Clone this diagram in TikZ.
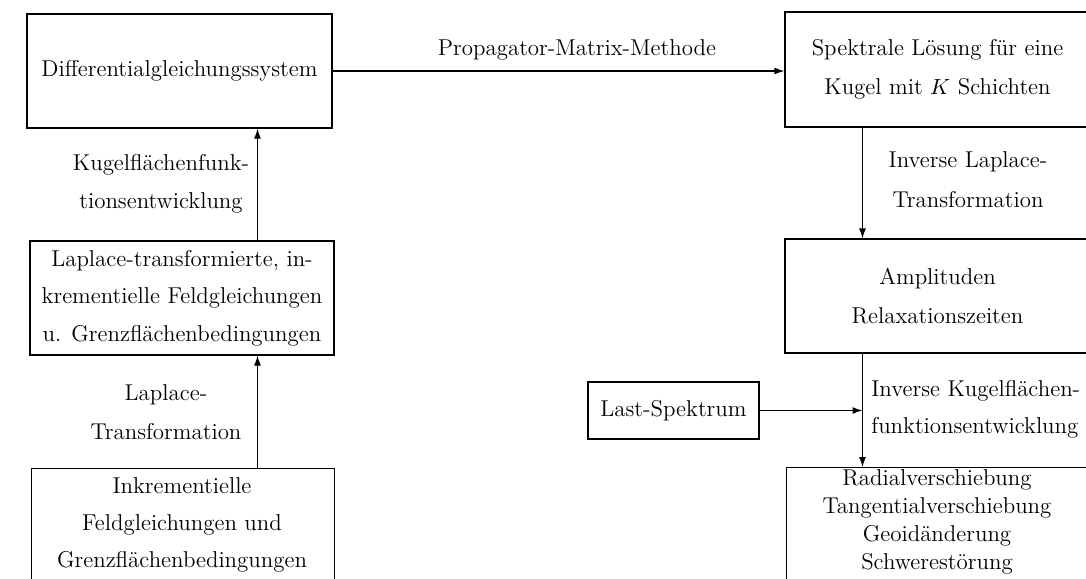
\documentclass[tikz,border=0pt]{standalone}
\usetikzlibrary{arrows.meta}
\begin{document}
\begin{tikzpicture}[x=0.5pt,y=-0.5pt,
  box/.style={draw,line width=0.6pt,rectangle,inner sep=0pt,align=center,font=\fontsize{11.45}{19.5}\selectfont},
  txt/.style={inner sep=0pt,align=center,font=\fontsize{11.45}{19}\selectfont},
  arr/.style={line width=0.6pt,-{Latex[length=5pt,width=3.5pt]}}]
\useasboundingbox (0,0) rectangle (1086,578);
\clip (0,0) rectangle (1086,578);
% boxes
\node[box,minimum width=152.5pt,minimum height=57pt] (b1) at (179.5,71) {Differentialgleichungssystem};
\node[box,minimum width=152.5pt,minimum height=57.5pt] (b2) at (937.5,69.5) {Spektrale Lösung für eine\\Kugel mit $K$ Schichten};
\node[box,minimum width=152.5pt,minimum height=57pt] (b3) at (937.5,296) {Amplituden\\Relaxationszeiten};
\node[box,anchor=north west,minimum width=152pt,minimum height=70pt] (b4) at (786,467) {};
\node[txt,font=\fontsize{11.45}{14}\selectfont] (b4t) at (937,522) {Radialverschiebung\\Tangentialverschiebung\\Geoidänderung\\Schwerestörung};
\node[box,font=\fontsize{11.45}{18.7}\selectfont,minimum width=152pt,minimum height=57pt] (b5) at (182,298) {Laplace-transformierte, in-\\krementielle Feldgleichungen\\u. Grenzflächenbedingungen};
\node[box,anchor=north west,minimum width=151.5pt,minimum height=70pt] (b6) at (31,468) {};
\node[txt,font=\fontsize{11.45}{18.5}\selectfont] (b6t) at (182,525) {Inkrementielle\\Feldgleichungen und\\Grenzflächenbedingungen};
\node[box,minimum width=85.5pt,minimum height=28.5pt] (last) at (673.5,410.5) {Last-Spektrum};
% x positions of vertical connectors
\coordinate (cr) at (862.5,0);
\coordinate (cl) at (257.5,0);
% connectors
\draw[arr] (b1.east) -- (b1.east -| b2.west);
\draw[arr] (b2.south -| cr) -- (b3.north -| cr);
\draw[arr] (b3.south -| cr) -- (b4.north -| cr);
\draw[arr] (last.east) -- (last.east -| cr);
\draw[arr] (b5.north -| cl) -- (b1.south -| cl);
\draw[arr] (b6.north -| cl) -- (b5.south -| cl);
% labels
\node[txt] (lpm) at (577,50) {Propagator-Matrix-Methode};
\node[txt,font=\fontsize{11.45}{20}\selectfont] (lil) at (968,180) {Inverse Laplace-\\Transformation};
\node[txt,anchor=west,align=left,font=\fontsize{11.45}{18.5}\selectfont] (lik) at (871,409.5) {Inverse Kugelflächen-\\funktionsentwicklung};
\node[txt] (lkf) at (161,184) {Kugelflächenfunk-\\tionsentwicklung};
\node[txt,font=\fontsize{11.45}{19.5}\selectfont] (llt) at (166,412) {Laplace-\\Transformation};
\end{tikzpicture}
\end{document}
